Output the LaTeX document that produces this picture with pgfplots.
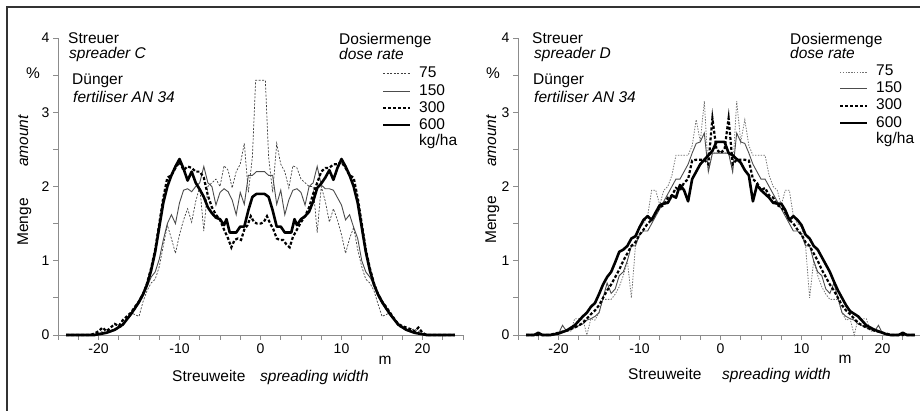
\documentclass[border=0pt]{standalone}
\usepackage{fontspec}
\setmainfont{Liberation Sans}
\usepackage{pgfplots}
\pgfplotsset{compat=1.18}

\newcommand\lab{\fontsize{15.5pt}{18pt}\selectfont}

\tikzset{
  s75/.style={draw=black!75, line width=0.7pt, dash pattern=on 2pt off 1.5pt},
  s75d/.style={draw=black!55, line width=0.8pt, dash pattern=on 1.4pt off 1.4pt},
  s150/.style={draw=black!70, line width=0.9pt},
  s300/.style={draw=black, line width=2.2pt, dash pattern=on 3pt off 2pt},
  s600/.style={draw=black, line width=2.6pt, line join=round},
}
\pgfplotsset{
  spread/.style={
    scale only axis, width=405pt, height=297pt,
    xmin=-25, xmax=25, ymin=0, ymax=4,
    axis lines*=left,
    axis line style={black!45, line width=0.9pt},
    xtick={-20,-10,0,10,20}, minor xtick={-25,-22.5,...,25},
    ytick={0,1,2,3,4}, minor ytick={0.5,1.5,2.5,3.5},
    tick align=outside, major tick length=5pt, minor tick length=5pt,
    every tick/.style={black!45, line width=0.8pt},
    ticklabel style={font=\fontsize{14pt}{16pt}\selectfont, text=black},
    /pgf/number format/assume math mode=true,
    clip=false,
  },
}

\begin{document}
\begin{tikzpicture}[x=1pt,y=1pt]
\useasboundingbox (0,0) rectangle (920,411);
\draw[black!80, line width=1.5pt] (7,0) -- (7,404) -- (920,404);

% ---------- left: spreader C ----------
\begin{axis}[spread, at={(58pt,76pt)}, anchor=south west]
\addplot[s75] coordinates {
(-24,0) (-21,0) (-20,0.02) (-19.5,0.05) (-19,0.03) (-18,0.06) (-17,0.12) (-16,0.3) (-15,0.25)
(-14.5,0.45) (-14,0.6) (-13.5,0.7) (-13,0.75) (-12.5,0.92) (-12,1.2) (-11.5,1.48) (-11,1.3)
(-10.5,1.1) (-10,1.35) (-9.5,1.55) (-9,1.7) (-8.5,1.52) (-8,1.8) (-7.5,2.0) (-7,1.4) (-6.5,2.0)
(-6,2.05) (-5.5,2.1) (-5,2.0) (-4.5,2.28) (-4,2.22) (-3.5,1.98) (-3,2.2) (-2.5,2.3) (-2,2.58)
(-1.5,1.92) (-1,2.4) (-0.6,3.43) (0,3.43) (0.6,3.43) (1,2.4) (1.5,1.92) (2,2.58) (2.5,2.3)
(3,2.2) (3.5,1.98) (4,2.28) (4.5,2.25) (5,2.1) (5.5,2.05) (6,2.0) (6.5,2.0) (7,1.38) (7.5,2.0)
(8,1.8) (8.5,1.52) (9,1.7) (9.5,1.55) (10,1.35) (10.5,1.1) (11,1.3) (11.5,1.45) (12,1.15)
(12.5,0.92) (13,0.75) (13.5,0.7) (14,0.6) (14.5,0.42) (15,0.25) (16,0.3) (17,0.12) (18,0.06)
(19,0.08) (19.5,0.05) (20,0.02) (21,0) (24,0)};
\addplot[s150] coordinates {
(-24,0) (-21,0) (-20,0.02) (-19,0.04) (-18,0.08) (-17,0.15) (-16,0.28) (-15.5,0.35) (-15,0.42)
(-14.5,0.52) (-14,0.65) (-13.5,0.78) (-13,0.85) (-12.5,1.02) (-12,1.28) (-11.5,1.5) (-11,1.62)
(-10.5,1.5) (-10,1.78) (-9.5,1.95) (-9,1.97) (-8.5,1.93) (-8,2.0) (-7.5,2.05) (-7,2.27)
(-6.5,2.05) (-6,2.0) (-5.5,1.75) (-5,1.92) (-4.5,1.97) (-4,1.93) (-3.5,1.82) (-3,1.62)
(-2.5,1.92) (-2,1.76) (-1.5,2.15) (-1,2.15) (-0.5,2.2) (0,2.2) (0.5,2.2) (1,2.15) (1.5,2.15)
(2,1.76) (2.5,1.95) (3,1.62) (3.5,1.82) (4,1.95) (4.5,1.97) (5,1.92) (5.5,1.75) (6,2.0)
(6.5,2.05) (7,2.27) (7.5,2.02) (8,1.97) (8.5,1.97) (9,1.95) (9.5,1.85) (10,1.75) (10.5,1.55)
(11,1.62) (11.5,1.45) (12,1.3) (12.5,1.0) (13,0.85) (13.5,0.78) (14,0.68) (14.5,0.52)
(15,0.42) (15.5,0.35) (16,0.28) (17,0.15) (18,0.08) (19,0.04) (20,0.02) (21,0) (24,0)};
\addplot[s300] coordinates {
(-24,0) (-21,0) (-20.5,0.02) (-20,0.05) (-19.5,0.1) (-19,0.05) (-18.5,0.1) (-18,0.15)
(-17.5,0.12) (-17,0.2) (-16.5,0.25) (-16,0.3) (-15.5,0.38) (-15,0.45) (-14.5,0.55) (-14,0.7)
(-13.5,0.9) (-13,1.15) (-12.5,1.5) (-12,1.85) (-11.5,2.12) (-11,2.15) (-10.5,2.25) (-10,2.33)
(-9.5,2.22) (-9,2.27) (-8.5,2.25) (-8,2.2) (-7.5,2.2) (-7,2.12) (-6.5,1.88) (-6,1.72)
(-5.5,1.62) (-5,1.55) (-4.5,1.42) (-4,1.3) (-3.6,1.18) (-3.2,1.28) (-2.8,1.3) (-2.4,1.28)
(-2,1.42) (-1.6,1.48) (-1.2,1.6) (-0.8,1.52) (-0.4,1.5) (0,1.5) (0.4,1.52) (0.8,1.6) (1.2,1.5)
(1.6,1.42) (2,1.3) (2.4,1.28) (2.8,1.28) (3.2,1.22) (3.6,1.18) (4,1.32) (4.5,1.42) (5,1.52)
(5.5,1.6) (6,1.72) (6.5,1.9) (7,2.05) (7.5,2.2) (8,2.25) (8.5,2.25) (9,2.3) (9.5,2.3)
(10,2.33) (10.5,2.25) (11,2.15) (11.5,2.12) (12,1.85) (12.5,1.5) (13,1.15) (13.5,0.9)
(14,0.7) (14.5,0.55) (15,0.45) (15.5,0.38) (16,0.3) (16.5,0.22) (17,0.15) (17.5,0.12)
(18,0.1) (18.5,0.08) (19,0.05) (19.5,0.1) (20,0.03) (20.5,0) (24,0)};
\addplot[s600] coordinates {
(-24,0) (-22,0) (-20.5,0) (-20,0.01) (-19,0.03) (-18,0.07) (-17,0.14) (-16,0.28) (-15.5,0.36)
(-15,0.45) (-14.5,0.55) (-14,0.68) (-13.5,0.87) (-13,1.12) (-12.5,1.45) (-12,1.78) (-11.5,2.0)
(-11,2.15) (-10.5,2.27) (-10,2.37) (-9.5,2.24) (-9,2.08) (-8.5,2.2) (-8,2.05) (-7.5,1.96)
(-7,1.86) (-6.5,1.72) (-6,1.64) (-5.5,1.58) (-5,1.56) (-4.5,1.48) (-4.2,1.56) (-3.8,1.38)
(-3.5,1.38) (-3,1.38) (-2.5,1.46) (-2,1.46) (-1.5,1.68) (-1,1.86) (-0.5,1.9) (0,1.9) (0.5,1.9)
(1,1.86) (1.5,1.68) (2,1.46) (2.5,1.46) (3,1.38) (3.5,1.38) (3.8,1.38) (4.2,1.56) (4.5,1.48)
(5,1.56) (5.5,1.6) (6,1.66) (6.5,1.8) (7,1.98) (7.5,2.04) (8,2.12) (8.5,2.22) (9,2.09)
(9.5,2.25) (10,2.37) (10.5,2.27) (11,2.15) (11.5,2.0) (12,1.78) (12.5,1.45) (13,1.12)
(13.5,0.87) (14,0.68) (14.5,0.55) (15,0.45) (15.5,0.36) (16,0.28) (17,0.14) (18,0.07)
(19,0.03) (20,0.01) (20.5,0) (22,0) (24,0)};
\end{axis}

% ---------- right: spreader D ----------
\begin{axis}[spread, at={(518pt,76pt)}, anchor=south west]
\addplot[s75d] coordinates {
(-24,0) (-21,0) (-20,0.02) (-19,0.05) (-18.5,0.05) (-18,0.22) (-17,0.22) (-16.5,0.0) (-16,0.22)
(-15.5,0.2) (-15,0.3) (-14.5,0.48) (-14,0.48) (-13.5,0.48) (-13,0.55) (-12.5,0.65) (-12,0.8)
(-11.5,1.0) (-11,0.5) (-10.5,1.2) (-10,1.45) (-9.5,1.5) (-9,1.6) (-8.5,1.95) (-8,1.95)
(-7.5,1.75) (-7,1.95) (-6.5,2.0) (-6,2.15) (-5.5,2.42) (-5,2.42) (-4.5,2.42) (-4,2.42)
(-3.5,2.55) (-3,2.9) (-2.5,2.6) (-2,3.15) (-1.5,2.2) (-1,2.45) (-0.5,2.45) (0,2.45) (0.5,2.45)
(1,2.45) (1.5,2.2) (2,3.15) (2.5,2.6) (3,2.9) (3.5,2.55) (4,2.42) (4.5,2.42) (5,2.42)
(5.5,2.42) (6,2.15) (6.5,2.0) (7,1.95) (7.5,1.75) (8,1.95) (8.5,1.95) (9,1.6) (9.5,1.5)
(10,1.45) (10.5,1.2) (11,0.5) (11.5,1.0) (12,0.8) (12.5,0.65) (13,0.55) (13.5,0.48) (14,0.48)
(14.5,0.48) (15,0.3) (15.5,0.2) (16,0.22) (16.5,0.0) (17,0.22) (18,0.22) (18.5,0.05) (19,0.05)
(20,0.02) (21,0) (24,0)};
\addplot[s150] coordinates {
(-24,0) (-21,0) (-20,0.02) (-19.5,0.13) (-19,0.05) (-18,0.1) (-17,0.15) (-16.5,0.2) (-16,0.22)
(-15.5,0.25) (-15,0.3) (-14.5,0.5) (-14,0.7) (-13.5,0.56) (-13,0.62) (-12.5,0.8) (-12,0.85)
(-11.5,1.0) (-11,1.2) (-10.5,1.2) (-10,1.35) (-9.5,1.4) (-9,1.4) (-8.5,1.5) (-8,1.6) (-7.5,1.7)
(-7,1.8) (-6.5,1.9) (-6,2.0) (-5.5,2.1) (-5,2.1) (-4.5,2.2) (-4,2.3) (-3.5,2.45) (-3,2.58)
(-2.5,2.6) (-2,2.72) (-1.5,2.2) (-1,2.45) (-0.5,2.45) (0,2.45) (0.5,2.45) (1,2.45) (1.5,2.2)
(2,2.72) (2.5,2.6) (3,2.58) (3.5,2.45) (4,2.3) (4.5,2.2) (5,2.1) (5.5,2.1) (6,2.0) (6.5,1.9)
(7,1.8) (7.5,1.7) (8,1.6) (8.5,1.5) (9,1.4) (9.5,1.4) (10,1.35) (10.5,1.2) (11,1.2) (11.5,1.0)
(12,0.85) (12.5,0.8) (13,0.62) (13.5,0.56) (14,0.7) (14.5,0.5) (15,0.3) (15.5,0.25) (16,0.22)
(16.5,0.2) (17,0.15) (18,0.1) (19,0.05) (19.5,0.13) (20,0.02) (21,0) (24,0)};
\addplot[s300] coordinates {
(-24,0) (-21,0) (-20.5,0.02) (-20,0.03) (-19,0.06) (-18,0.1) (-17,0.16) (-16.5,0.22) (-16,0.28)
(-15.5,0.33) (-15,0.4) (-14.5,0.5) (-14,0.6) (-13.5,0.68) (-13,0.78) (-12.5,0.88) (-12,1.0)
(-11.5,1.1) (-11,1.2) (-10.5,1.25) (-10,1.35) (-9.5,1.42) (-9,1.5) (-8.5,1.55) (-8,1.65)
(-7.5,1.72) (-7,1.75) (-6.5,1.85) (-6,1.88) (-5.5,1.98) (-5,1.95) (-4.5,2.05) (-4,2.1)
(-3.5,2.35) (-3,2.36) (-2.5,2.36) (-2,2.36) (-1.5,2.3) (-1,2.92) (-0.5,2.5) (0,2.45) (0.5,2.5)
(1,2.92) (1.5,2.3) (2,2.36) (2.5,2.36) (3,2.36) (3.5,2.35) (4,2.1) (4.5,2.05) (5,1.95)
(5.5,1.98) (6,1.88) (6.5,1.85) (7,1.75) (7.5,1.72) (8,1.65) (8.5,1.55) (9,1.5) (9.5,1.42)
(10,1.35) (10.5,1.25) (11,1.2) (11.5,1.1) (12,1.0) (12.5,0.88) (13,0.78) (13.5,0.68) (14,0.6)
(14.5,0.5) (15,0.4) (15.5,0.33) (16,0.28) (16.5,0.22) (17,0.16) (18,0.1) (19,0.06) (20,0.03)
(20.5,0.02) (21,0) (24,0)};
\addplot[s600] coordinates {
(-24,0) (-23,0) (-22.5,0.03) (-22,0) (-21,0) (-20.5,0.01) (-20,0.02) (-19,0.06) (-18,0.13)
(-17,0.25) (-16.5,0.3) (-16,0.38) (-15.5,0.43) (-15,0.55) (-14.5,0.68) (-14,0.78) (-13.5,0.85)
(-13,0.98) (-12.5,1.12) (-12,1.15) (-11.5,1.2) (-11,1.3) (-10.5,1.33) (-10,1.45) (-9.5,1.55)
(-9,1.6) (-8.5,1.55) (-8,1.65) (-7.5,1.75) (-7,1.77) (-6.5,1.78) (-6,1.88) (-5.5,1.85)
(-5,2.02) (-4.5,1.95) (-4,1.8) (-3.5,2.1) (-3,2.2) (-2.5,2.3) (-2,2.36) (-1.5,2.42) (-1,2.48)
(-0.5,2.6) (0,2.6) (0.5,2.6) (1,2.45) (1.5,2.42) (2,2.37) (2.5,2.32) (3,2.22) (3.5,2.15)
(4,1.8) (4.5,2.02) (5,1.95) (5.5,1.9) (6,1.85) (6.5,1.78) (7,1.77) (7.5,1.77) (8,1.68)
(8.5,1.55) (9,1.6) (9.5,1.55) (10,1.48) (10.5,1.35) (11,1.3) (11.5,1.2) (12,1.15) (12.5,1.05)
(13,0.95) (13.5,0.85) (14,0.72) (14.5,0.6) (15,0.5) (15.5,0.4) (16,0.32) (17,0.25) (18,0.13)
(19,0.07) (20,0.03) (20.5,0.01) (21,0) (22,0) (22.5,0.03) (23,0) (24,0)};
\end{axis}

% ---------- texts, left ----------
\begin{scope}[every node/.style={inner sep=0pt}]
\node[anchor=base west] at (68,367) {\lab Streuer};
\node[anchor=base west] at (69,352) {\lab\itshape spreader C};
\node[anchor=base west] at (72,326) {\lab Dünger};
\node[anchor=base west] at (73,308) {\lab\itshape fertiliser AN 34};
\node[anchor=base] at (33,332) {\lab\%};
\node[anchor=base, rotate=90] at (28,270) {\lab\itshape amount};
\node[anchor=base, rotate=90] at (28,189) {\lab Menge};
\node[anchor=base west] at (339,366) {\lab Dosiermenge};
\node[anchor=base west] at (339,351) {\lab\itshape dose rate};
\draw[s75]  (383,338) -- (410,338);
\draw[s150] (383,320) -- (410,320);
\draw[s300] (383,303) -- (410,303);
\draw[s600] (383,286) -- (410,286);
\node[anchor=base west] at (419,333) {\lab 75};
\node[anchor=base west] at (419,315) {\lab 150};
\node[anchor=base west] at (419,298) {\lab 300};
\node[anchor=base west] at (419,281) {\lab 600};
\node[anchor=base west] at (419,265) {\lab kg/ha};
\node[anchor=base] at (385,46) {\lab m};
\node[anchor=base west] at (172,29) {\lab Streuweite};
\node[anchor=base west] at (260,29) {\lab\itshape spreading width};
% ---------- texts, right ----------
\node[anchor=base west] at (532,367) {\lab Streuer};
\node[anchor=base west] at (534,352) {\lab\itshape spreader D};
\node[anchor=base west] at (533,326) {\lab Dünger};
\node[anchor=base west] at (534,308) {\lab\itshape fertiliser AN 34};
\node[anchor=base] at (493,332) {\lab\%};
\node[anchor=base, rotate=90] at (496,270) {\lab\itshape amount};
\node[anchor=base, rotate=90] at (496,191) {\lab Menge};
\node[anchor=base west] at (790,366) {\lab Dosiermenge};
\node[anchor=base west] at (790,352) {\lab\itshape dose rate};
\draw[s75d] (840,339) -- (867,339);
\draw[s150] (840,323) -- (867,323);
\draw[s300] (840,305) -- (867,305);
\draw[s600] (840,288) -- (867,288);
\node[anchor=base west] at (876,335) {\lab 75};
\node[anchor=base west] at (876,318) {\lab 150};
\node[anchor=base west] at (876,301) {\lab 300};
\node[anchor=base west] at (876,283) {\lab 600};
\node[anchor=base west] at (876,267) {\lab kg/ha};
\node[anchor=base] at (845,47) {\lab m};
\node[anchor=base west] at (628,31) {\lab Streuweite};
\node[anchor=base west] at (722,31) {\lab\itshape spreading width};
\end{scope}
\end{tikzpicture}
\end{document}
